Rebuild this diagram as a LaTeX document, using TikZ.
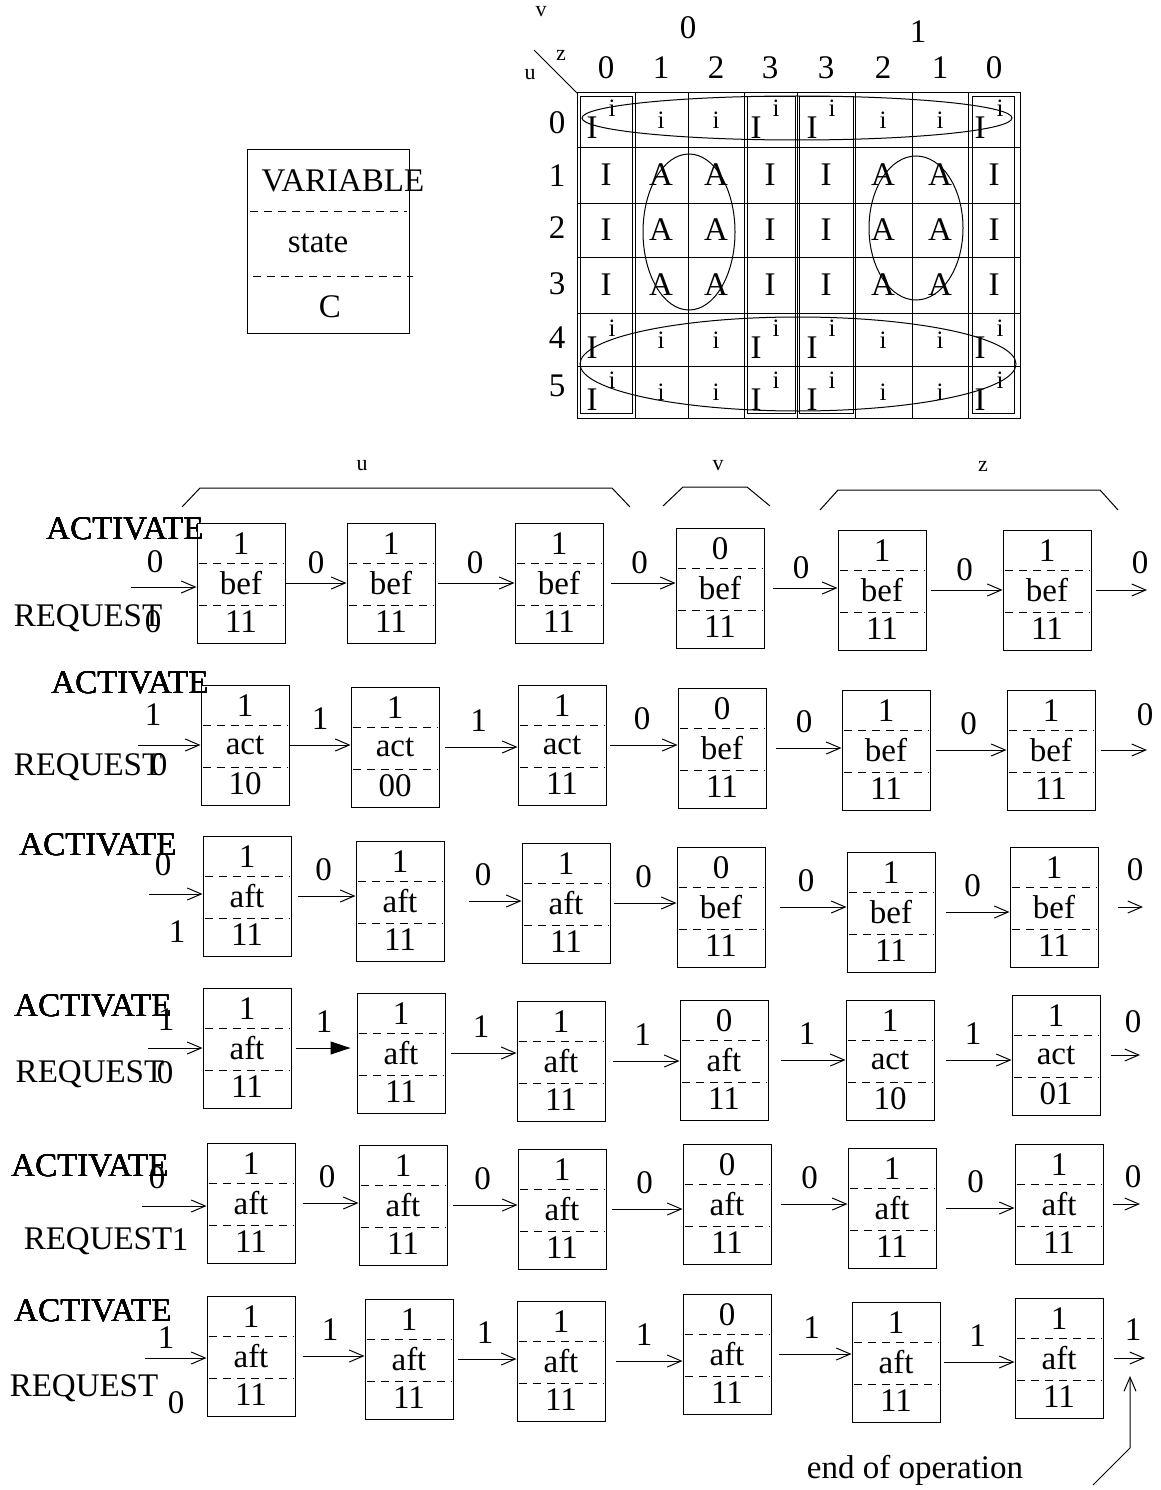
\documentclass[tikz,border=0pt]{standalone}
\usepackage{fontspec}
\setmainfont{Liberation Serif}
\usetikzlibrary{arrows.meta}

\newcommand{\statecell}[6]{%
  \node[cellbox] (#1) at (#2,#3) {};
  \draw[cellsep] ([xshift=2pt,yshift=-41pt]#1.north west) -- ([xshift=-2pt,yshift=-41pt]#1.north east);
  \draw[cellsep] ([xshift=2pt,yshift=-83pt]#1.north west) -- ([xshift=-2pt,yshift=-83pt]#1.north east);
  \node[celltxt] (#1-c) at ([yshift=-21pt]#1.north) {#4};
  \node[celltxt] (#1-s) at ([yshift=-61pt]#1.north) {#5};
  \node[celltxt] (#1-v) at ([yshift=-99pt]#1.north) {#6};
}

\begin{document}
\begin{tikzpicture}[
  x=1pt, y=-1pt,
  line width=1pt,
  font=\fontsize{33}{36}\selectfont,
  cellbox/.style={draw, minimum width=88pt, minimum height=120pt, inner sep=0pt},
  cellsep/.style={dash pattern=on 8pt off 6pt, line width=0.8pt},
  celltxt/.style={inner sep=0pt},
  axislbl/.style={font=\fontsize{22}{24}\selectfont},
  supi/.style={font=\fontsize{25}{27}\selectfont},
  flow/.style={-{Straight Barb[length=14pt,width=12pt]}},
  solidflow/.style={-{Triangle[length=20pt,width=13pt]}},
  lbl/.style={midway, above=#1, inner sep=0pt},
  lbl/.default=15pt
]
\useasboundingbox (0,0) rectangle (1160,1490);

% legend
\node[draw, minimum width=162pt, minimum height=183pt, inner sep=0pt] (legend) at (328,241.5) {};
\draw[cellsep] (250,211) -- (407,211);
\draw[cellsep] (253,276) -- (413,276);
\node (legvar) at (343,181) {VARIABLE};
\node (legstate) at (318,243) {state};
\node (legc) at (330,307) {C};

% karnaugh map
\node[axislbl] (kv) at (541,12) {v};
\node[axislbl] (kz) at (561,55) {z};
\node[axislbl] (ku) at (530,75) {u};
\draw (534,50) -- (577,93);
\node (kv0) at (688,28) {0};
\node (kv1) at (918,32) {1};
\foreach \x/\t [count=\k] in {606/0,661/1,716/2,770/3,826/3,883/2,940/1,994/0}
  \node (kz\k) at (\x,68) {\t};
\foreach \y/\t [count=\k] in {123/0,176/1,228/2,284/3,338/4,386/5}
  \node (ku\k) at (557,\y) {\t};
\draw (577,93) rectangle (1020,418);
\foreach \x in {635,688,744,797,855,912,968}
  \draw (\x,93) -- (\x,418);
\foreach \y in {148,203,257,313,366}
  \draw (577,\y) -- (1020,\y);
\foreach \l/\r in {580/632,747/795,799/853,972/1014}
  \draw (\l,97) rectangle (\r,413);

\foreach \y [count=\r] in {120,340,392} {
  \foreach \x [count=\c] in {661,716,883,940}
    \node[supi] (ki\r\c) at (\x,\y) {i};
  \foreach \x [count=\c] in {606,770,826,994} {
    \node (kI\r\c) at (\x-14,\y+8) {I};
    \node[supi] (kIi\r\c) at (\x+6,\y-12) {i};
  }
}
\foreach \y [count=\r] in {175,230,285}
  \foreach \x/\t [count=\c] in {606/I,661/A,716/A,770/I,826/I,883/A,940/A,994/I}
    \node (ka\r\c) at (\x,\y) {\t};

\draw (797,118) ellipse [x radius=215, y radius=22];
\draw (798,364) ellipse [x radius=218, y radius=47];
\draw (689,232) ellipse [x radius=46, y radius=78];
\draw (916,228) ellipse [x radius=47, y radius=72];

% groups u, v, z
\draw (182,507) -- (200,488) -- (612,488) -- (630,507);
\node[axislbl] (gu) at (362,466) {u};
\draw (663,506) -- (683,487) -- (747,487) -- (770,506);
\node[axislbl] (gv) at (718,466) {v};
\draw (820,510) -- (838,490) -- (1100,490) -- (1118,510);
\node[axislbl] (gz) at (983,466) {z};

% row 1
\foreach \n/\x/\y/\a/\b/\c in {r1b1/241/583/1/bef/11, r1b2/391/583/1/bef/11, r1b3/559/583/1/bef/11,
    r1b4/720/588/0/bef/11, r1b5/882/590/1/bef/11, r1b6/1047/590/1/bef/11}
  \statecell{\n}{\x}{\y}{\a}{\b}{\c}
\node (r1act) at (125,529) {ACTIVATE};
\node (r1req) at (88,618) {REQUEST};
\node (r1actv) at (155,562) {0};
\node (r1reqv) at (153,622) {0};
\coordinate (r1in) at (131,587);
\coordinate (r1out) at (1147,587);
\draw[flow] (r1in) -- (r1in -| r1b1.west);
\foreach \a/\b/\l/\s in {r1b1/r1b2/0/0, r1b2/r1b3/0/2, r1b3/r1b4/0/7, r1b4/r1b5/0/8, r1b5/r1b6/0/4}
  \draw[flow, shorten <=\s pt] (\a.east) -- (\a.east -| \b.west) node[lbl=9pt] {\l};
\draw[flow, shorten <=4pt] (r1b6.east) -- (r1b6.east -| r1out);
\node (r1outv) at (1140,563) {0};

% row 2
\foreach \n/\x/\y/\a/\b/\c in {r2b1/245/745/1/act/10, r2b2/395/747/1/act/00, r2b3/562/745/1/act/11,
    r2b4/722/748/0/bef/11, r2b5/886/750/1/bef/11, r2b6/1051/750/1/bef/11}
  \statecell{\n}{\x}{\y}{\a}{\b}{\c}
\node (r2act) at (130,683) {ACTIVATE};
\node (r2req) at (88,767) {REQUEST};
\node (r2actv) at (153,715) {1};
\node (r2reqv) at (159,765) {0};
\coordinate (r2in) at (138,745);
\coordinate (r2out) at (1147,745);
\draw[flow] (r2in) -- (r2in -| r2b1.west);
\foreach \a/\b/\l/\s in {r2b1/r2b2/1/0, r2b2/r2b3/1/5, r2b3/r2b4/0/3, r2b4/r2b5/0/9, r2b5/r2b6/0/5}
  \draw[flow, shorten <=\s pt] (\a.east) -- (\a.east -| \b.west) node[lbl] {\l};
\draw[flow, shorten <=5pt] (r2b6.east) -- (r2b6.east -| r2out);
\node (r2outv) at (1145,715) {0};

% row 3
\foreach \n/\x/\y/\a/\b/\c in {r3b1/247/896/1/aft/11, r3b2/400/901/1/aft/11, r3b3/566/903/1/aft/11,
    r3b4/721/907/0/bef/11, r3b5/891/912/1/bef/11, r3b6/1054/907/1/bef/11}
  \statecell{\n}{\x}{\y}{\a}{\b}{\c}
\node (r3act) at (98,845) {ACTIVATE};
\node (r3actv) at (163,865) {0};
\node (r3reqv) at (177,932) {1};
\coordinate (r3in) at (149,894);
\coordinate (r3out) at (1143,894);
\draw[flow] (r3in) -- (r3in -| r3b1.west);
\foreach \a/\b/\l/\s in {r3b1/r3b2/0/6, r3b2/r3b3/0/24, r3b3/r3b4/0/3, r3b4/r3b5/0/14, r3b5/r3b6/0/10}
  \draw[flow, shorten <=\s pt] (\a.east) -- (\a.east -| \b.west) node[lbl] {\l};
\draw[flow, shorten <=19pt] (r3b6.east) -- (r3b6.east -| r3out);
\node (r3outv) at (1135,870) {0};

% row 4
\foreach \n/\x/\y/\a/\b/\c in {r4b1/247/1048/1/aft/11, r4b2/401/1053/1/aft/11, r4b3/561/1061/1/aft/11,
    r4b4/724/1060/0/aft/11, r4b5/890/1060/1/act/10, r4b6/1056/1055/1/act/01}
  \statecell{\n}{\x}{\y}{\a}{\b}{\c}
\node (r4act) at (93,1006) {ACTIVATE};
\node (r4req) at (90,1074) {REQUEST};
\node (r4actv) at (166,1020) {1};
\node (r4reqv) at (165,1073) {0};
\coordinate (r4in) at (148,1048);
\coordinate (r4out) at (1140,1048);
\draw[flow] (r4in) -- (r4in -| r4b1.west);
\draw[solidflow, shorten <=4pt, shorten >=6pt] (r4b1.east) -- (r4b1.east -| r4b2.west) node[lbl] {1};
\foreach \a/\b/\l/\s in {r4b2/r4b3/1/5, r4b3/r4b4/1/7, r4b4/r4b5/1/12, r4b5/r4b6/1/11}
  \draw[flow, shorten <=\s pt] (\a.east) -- (\a.east -| \b.west) node[lbl] {\l};
\draw[flow, shorten <=10pt] (r4b6.east) -- (r4b6.east -| r4out);
\node (r4outv) at (1133,1022) {0};

% row 5
\foreach \n/\x/\y/\a/\b/\c in {r5b1/251/1203/1/aft/11, r5b2/403/1205/1/aft/11, r5b3/562/1209/1/aft/11,
    r5b4/727/1204/0/aft/11, r5b5/892/1208/1/aft/11, r5b6/1059/1204/1/aft/11}
  \statecell{\n}{\x}{\y}{\a}{\b}{\c}
\node (r5act) at (90,1166) {ACTIVATE};
\node (r5req) at (98,1241) {REQUEST};
\node (r5actv) at (157,1178) {0};
\node (r5reqv) at (180,1240) {1};
\coordinate (r5in) at (142,1206);
\coordinate (r5out) at (1140,1206);
\draw[flow] (r5in) -- (r5in -| r5b1.west);
\foreach \a/\b/\l/\s in {r5b1/r5b2/0/7, r5b2/r5b3/0/5, r5b3/r5b4/0/5, r5b4/r5b5/0/9, r5b5/r5b6/0/9}
  \draw[flow, shorten <=\s pt] (\a.east) -- (\a.east -| \b.west) node[lbl] {\l};
\draw[flow, shorten <=9pt] (r5b6.east) -- (r5b6.east -| r5out);
\node (r5outv) at (1133,1177) {0};

% row 6
\foreach \n/\x/\y/\a/\b/\c in {r6b1/251/1356/1/aft/11, r6b2/409/1359/1/aft/11, r6b3/561/1361/1/aft/11,
    r6b4/727/1354/0/aft/11, r6b5/896/1362/1/aft/11, r6b6/1059/1358/1/aft/11}
  \statecell{\n}{\x}{\y}{\a}{\b}{\c}
\node (r6act) at (93,1311) {ACTIVATE};
\node (r6req) at (84,1388) {REQUEST};
\node (r6actv) at (166,1338) {1};
\node (r6reqv) at (176,1403) {0};
\coordinate (r6in) at (145,1358);
\coordinate (r6out) at (1145,1358);
\draw[flow] (r6in) -- (r6in -| r6b1.west);
\foreach \a/\b/\l/\s in {r6b1/r6b2/1/7, r6b2/r6b3/1/4, r6b3/r6b4/1/10, r6b4/r6b5/1/7, r6b5/r6b6/1/3}
  \draw[flow, shorten <=\s pt] (\a.east) -- (\a.east -| \b.west) node[lbl] {\l};
\draw[flow, shorten <=10pt] (r6b6.east) -- (r6b6.east -| r6out);
\node (r6outv) at (1133,1330) {1};

% end of operation
\node (endop) at (915,1470) {end of operation};
\coordinate (endtail) at (1093,1485);
\coordinate (endtip) at (1130,1376);
\draw[flow] (endtail) -- (1130,1448) -- (endtip);

\end{tikzpicture}
\end{document}
